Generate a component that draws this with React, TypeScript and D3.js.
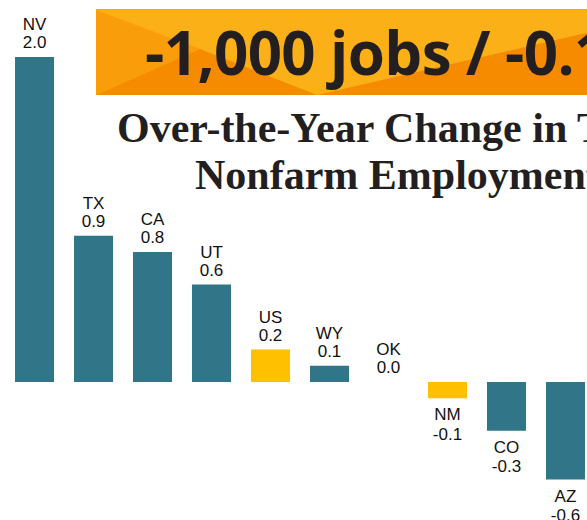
import React, { useEffect, useRef } from "react";
import * as d3 from "d3";

// over-the-year change in nonfarm employment, percent
const states = ["NV", "TX", "CA", "UT", "US", "WY", "OK", "NM", "CO", "AZ"];
const changes = [2.0, 0.9, 0.8, 0.6, 0.2, 0.1, 0.0, -0.1, -0.3, -0.6];
const highlighted = ["US", "NM"];

const headline = "-1,000 jobs / -0.1% ";
const titleLines = ["Over-the-Year Change in Texas", "Nonfarm Employment"];

const W = 587;
const H = 520;

const App = () => {
   const svgRef = useRef<SVGSVGElement>(null);

   useEffect(() => {
      const svg = d3.select(svgRef.current);
      svg.selectAll("*").remove();

      const data = states.map((s, i) => ({ state: s, value: changes[i] }));

      // banner
      const banner = svg.append("g");
      banner
         .append("rect")
         .attr("x", 96)
         .attr("y", 9)
         .attr("width", 520)
         .attr("height", 86)
         .attr("fill", "#fcb017");
      banner
         .append("path")
         .attr("d", "M96,10 L200,49 L96,95 Z")
         .attr("fill", "#f99d0b");
      banner
         .append("path")
         .attr("d", "M96,95 L200,49 L317,95 Z")
         .attr("fill", "#f78b00");
      banner
         .append("path")
         .attr("d", "M317,95 L616,26 L616,95 Z")
         .attr("fill", "#f78b00");
      banner
         .append("line")
         .attr("x1", 96)
         .attr("x2", 616)
         .attr("y1", 9.5)
         .attr("y2", 9.5)
         .attr("stroke", "#f5a31f")
         .attr("stroke-width", 1);
      banner
         .append("text")
         .attr("x", 145)
         .attr("y", 75)
         .attr("font-family", "'Open Sans', sans-serif")
         .attr("font-weight", 700)
         .attr("font-size", 60)
         .attr("letter-spacing", -0.6)
         .attr("fill", "#231f20")
         .text(headline);

      // title
      const titleX = [117, 195];
      const titleY = [142, 189];
      svg.selectAll(".title")
         .data(titleLines)
         .enter()
         .append("text")
         .attr("class", "title")
         .attr("x", (d, i) => titleX[i])
         .attr("y", (d, i) => titleY[i])
         .attr("font-family", "'Liberation Serif', 'Times New Roman', serif")
         .attr("font-weight", 700)
         .attr("font-size", 42)
         .attr("fill", "#231f20")
         .text((d) => d);

      const x = d3
         .scaleBand()
         .domain(states)
         .range([5, 595])
         .paddingInner(0.339)
         .paddingOuter(0.17);
      const y = d3.scaleLinear().domain([-0.6, 2.0]).range([479.5, 57]);

      const g = svg.append("g");

      g.selectAll(".bar")
         .data(data)
         .enter()
         .append("rect")
         .attr("class", "bar")
         .attr("x", (d) => x(d.state)!)
         .attr("y", (d) => Math.min(y(d.value), y(0)))
         .attr("width", x.bandwidth())
         .attr("height", (d) => Math.abs(y(d.value) - y(0)))
         .attr("fill", (d) => (highlighted.includes(d.state) ? "#ffc000" : "#317588"));

      const labels = g
         .selectAll(".label")
         .data(data)
         .enter()
         .append("g")
         .attr("class", "label")
         .attr("font-family", "'Liberation Sans', Arial, sans-serif")
         .attr("font-size", 17)
         .attr("fill", "#111")
         .attr("text-anchor", "middle");

      labels
         .append("text")
         .attr("x", (d) => x(d.state)! + x.bandwidth() / 2)
         .attr("y", (d) => (d.value >= 0 ? y(d.value) - 27 : y(d.value) + 22))
         .text((d) => d.state);

      labels
         .append("text")
         .attr("x", (d) => x(d.state)! + x.bandwidth() / 2)
         .attr("y", (d) => (d.value >= 0 ? y(d.value) - 9 : y(d.value) + 41.5))
         .text((d) => d.value.toFixed(1));
   }, []);

   return (
      <svg
         ref={svgRef}
         width={W}
         height={H}
         style={{ position: "absolute", left: 0, top: 0, background: "#fff" }}
      ></svg>
   );
};

export default App;
